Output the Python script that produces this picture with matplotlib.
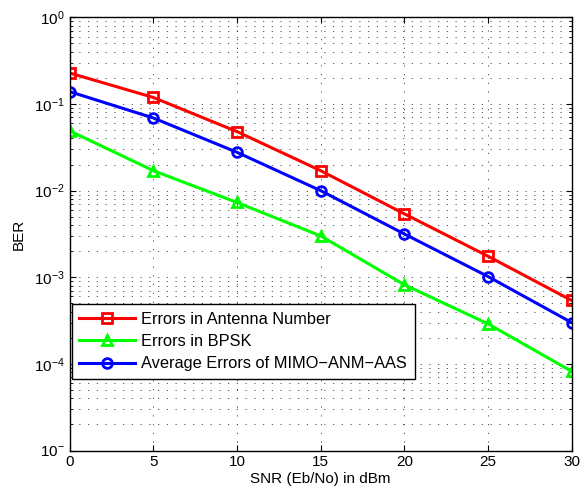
import matplotlib
matplotlib.use("Agg")
import matplotlib.pyplot as plt
from matplotlib.ticker import LogLocator, FixedLocator, FixedFormatter, NullFormatter

plt.rcParams['font.family'] = ['Liberation Sans', 'DejaVu Sans']
plt.rcParams['mathtext.fontset'] = 'custom'
plt.rcParams['mathtext.rm'] = 'Liberation Sans'
plt.rcParams['mathtext.it'] = 'Liberation Sans'

snr = [0, 5, 10, 15, 20, 25, 30]
ber_antenna = [0.228, 0.119, 0.048, 0.017, 0.0054, 0.00175, 0.00054]
ber_bpsk = [0.049, 0.017, 0.0073, 0.003, 0.00082, 0.00029, 0.000082]
ber_avg = [0.139, 0.069, 0.0277, 0.0100, 0.00316, 0.00102, 0.00030]

labels = ['Errors in Antenna Number', 'Errors in BPSK', 'Average Errors of MIMO\u2212ANM\u2212AAS']
xticks = [0, 5, 10, 15, 20, 25, 30]
yticks = [1e-5, 1e-4, 1e-3, 1e-2, 1e-1, 1e0]
ytick_labels = ['$10^{-}$', '$10^{-4}$', '$10^{-3}$', '$10^{-2}$', '$10^{-1}$', '$10^{0}$']

fig = plt.figure(figsize=(5.81, 4.97), dpi=100)
ax = fig.add_axes([0.120, 0.0935, 0.864, 0.8715])

kw = dict(linewidth=2.2, markersize=7, markeredgewidth=2, markerfacecolor='none')
ax.semilogy(snr, ber_antenna, 's-', color='#ff0000', label=labels[0], **kw)
ax.semilogy(snr, ber_bpsk, '^-', color='#00ff00', label=labels[1], **kw)
ax.semilogy(snr, ber_avg, 'o-', color='#0000ff', label=labels[2], **kw)

ax.set_xlim(0, 30)
ax.set_ylim(1e-5, 1)
ax.xaxis.set_major_locator(FixedLocator(xticks))
ax.yaxis.set_major_locator(FixedLocator(yticks))
ax.yaxis.set_major_formatter(FixedFormatter(ytick_labels))
ax.yaxis.set_minor_locator(LogLocator(base=10, subs=range(2, 10), numticks=20))
ax.yaxis.set_minor_formatter(NullFormatter())

gls = (0, (1.5, 9))
ax.grid(True, which='major', axis='both', linestyle=gls, color='0.25', linewidth=0.6)
ax.grid(True, which='minor', axis='y', linestyle=gls, color='0.25', linewidth=0.6)

ax.tick_params(which='both', direction='in', top=True, right=True, labelsize=11, colors='black')
ax.tick_params(which='major', length=4)
ax.tick_params(which='minor', length=2)
for s in ax.spines.values():
    s.set_linewidth(1.0)

ax.set_xlabel('SNR (Eb/No) in dBm', fontsize=11, labelpad=2)
ax.set_ylabel('BER', fontsize=11, labelpad=6)

leg = ax.legend(loc='upper left', bbox_to_anchor=(0.004, 0.338), fontsize=11.8,
                fancybox=False, edgecolor='black', framealpha=1,
                handlelength=3.4, borderaxespad=0, labelspacing=0.45, handletextpad=0.4,
                borderpad=0.45)
leg.get_frame().set_linewidth(1.0)

fig.savefig('out.png', dpi=100)
